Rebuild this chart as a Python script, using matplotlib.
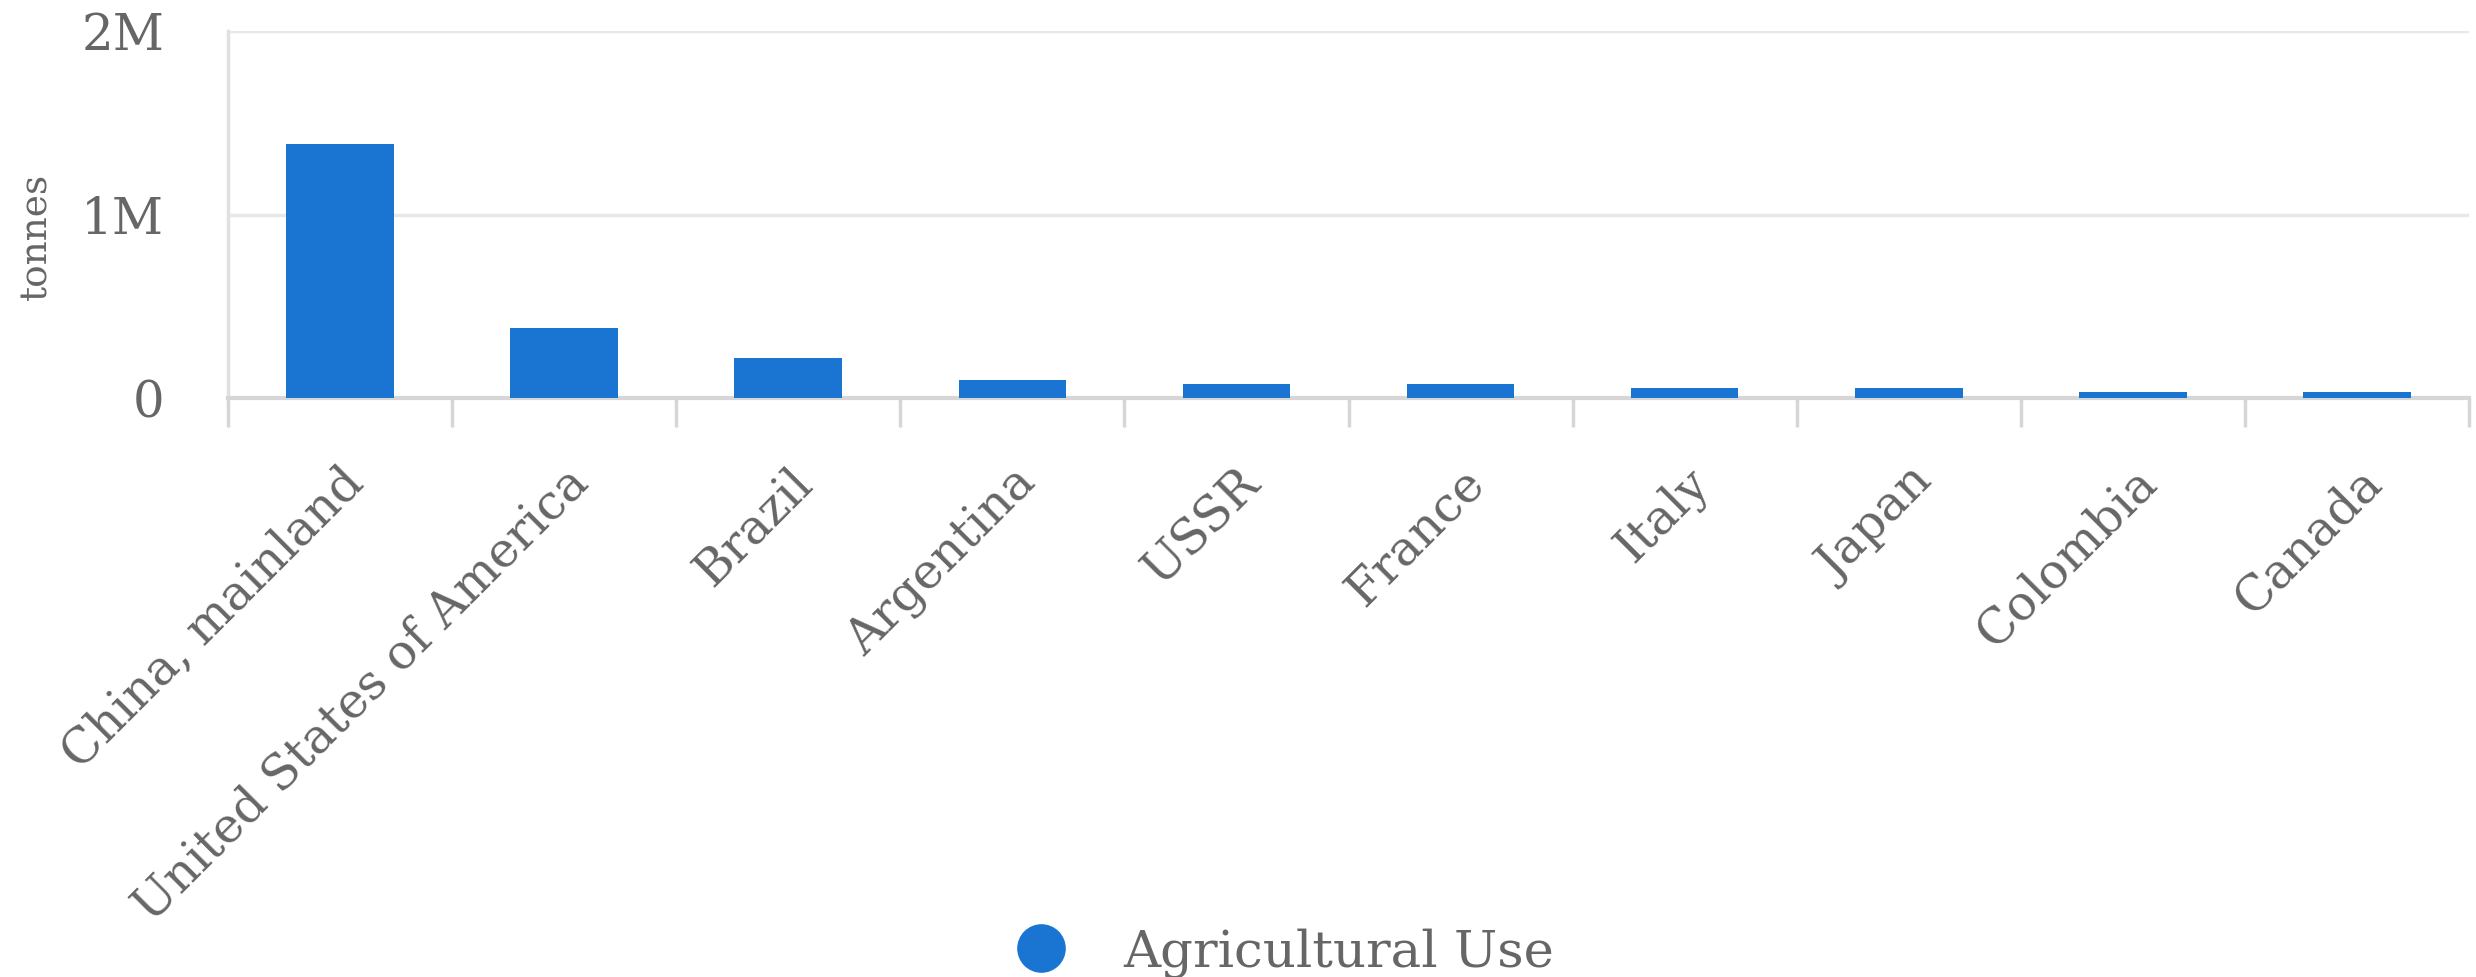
import matplotlib
matplotlib.use("Agg")
import matplotlib.pyplot as plt
from matplotlib.lines import Line2D
import numpy as np

categories = ["China, mainland", "United States of America", "Brazil", "Argentina",
              "USSR", "France", "Italy", "Japan", "Colombia", "Canada"]
values = [1384000, 383000, 217000, 99000, 77000, 77000, 52000, 52000, 33000, 32000]
series_name = "Agricultural Use"
y_ticks = [0, 1000000, 2000000]
y_tick_labels = ["0", "1M", "2M"]

W, H = 2476, 977
fig = plt.figure(figsize=(W / 100, H / 100), dpi=100)
plt.rcParams['font.family'] = ['DejaVu Serif']

left, right = 228 / W, 2469 / W
top, bottom = 1 - 31 / H, 1 - 398 / H
ax = fig.add_axes([left, bottom, right - left, top - bottom])

n = len(categories)
x = np.arange(n)
ax.bar(x, values, width=0.48, color="#1a75d2", zorder=3)

ax.set_xlim(-0.5, n - 0.5)
ax.set_ylim(0, 2000000)

# gridlines
ax.set_yticks(y_ticks)
ax.set_yticklabels(y_tick_labels, fontsize=36, color="#666666")
ax.yaxis.grid(True, color="#e8e8e8", linewidth=2.5, zorder=0)
ax.tick_params(axis="y", length=0, pad=46)

# spines
for s in ["top", "right"]:
    ax.spines[s].set_visible(False)
ax.spines["left"].set_color("#e0e0e0")
ax.spines["left"].set_linewidth(2.5)
ax.spines["bottom"].set_color("#d6d6d6")
ax.spines["bottom"].set_linewidth(3)

# x ticks at category boundaries, labels at centers
ax.set_xticks(np.arange(-0.5, n + 0.5, 1.0))
ax.set_xticklabels([])
ax.tick_params(axis="x", which="major", length=21, width=2.5, color="#d6d6d6", direction="out")
ax.set_xticks(x, minor=True)
ax.set_xticklabels(categories, minor=True, rotation=45, ha="right", va="top",
                   rotation_mode="anchor", fontsize=35, color="#666666")
ax.tick_params(axis="x", which="minor", length=0, pad=44)

ax.set_ylabel("tonnes", fontsize=27, color="#666666")
ax.yaxis.set_label_coords(-(228 - 54) / (2469 - 228), 0.44)

handle = Line2D([], [], marker="o", linestyle="none", markersize=34,
                markerfacecolor="#1a75d2", markeredgecolor="#1a75d2")
fig.legend([handle], [series_name], loc="center", bbox_to_anchor=(0.519, 1 - 953 / H),
           frameon=False, fontsize=37, labelcolor="#666666", handletextpad=1.1,
           handlelength=1.0)

fig.savefig("out.png", dpi=100)
